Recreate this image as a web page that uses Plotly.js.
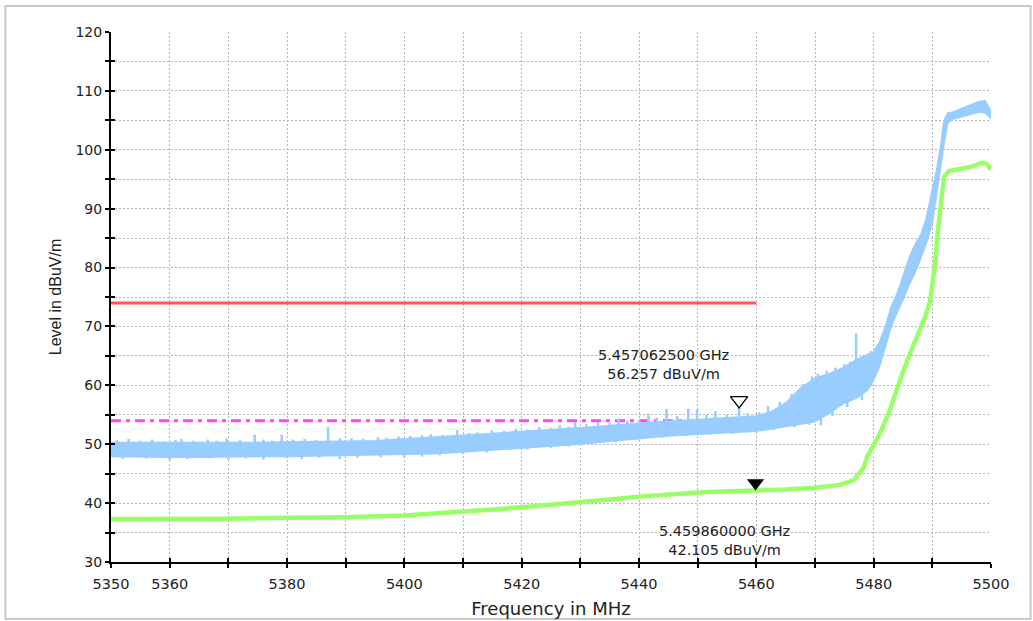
<!DOCTYPE html>
<html>
<head>
<meta charset="utf-8">
<script src="https://cdn.plot.ly/plotly-3.0.1.min.js"></script>
<style>html,body{margin:0;padding:0;background:#fff;}#chart{width:1033px;height:621px;}</style>
</head>
<body>
<div id="chart"></div>
<script>
// ---- data ----
const peakFreq = [5350,5355,5360,5365,5370,5375,5380,5385,5390,5395,5400,5405,5410,5415,5420,5425,5430,5435,5440,5445,5450,5455,5460,5462.5,5465,5467.5,5470,5472.5,5475,5477,5479,5480,5481,5482,5483,5484,5485,5486,5487,5488,5489,5490,5490.8,5491.4,5492,5492.6,5493.5,5495,5496.5,5498,5499,5500];
const peakUpper = [50.3,50.3,50.2,50.3,50.3,50.3,50.4,50.4,50.5,50.6,50.9,51.2,51.6,51.9,52.2,52.5,52.8,53.2,53.6,53.9,54.2,54.5,54.8,55.5,57.0,59.5,61.2,62.0,63.1,64.3,65.2,65.7,67.4,70.0,73.4,75.6,78.5,81.5,83.8,85.5,88.5,93.0,97.0,100.5,105.0,106.2,106.4,107.0,107.6,108.2,108.3,106.6];
const peakLower = [47.9,47.8,47.8,47.8,47.9,47.9,47.9,48.0,48.0,48.1,48.2,48.4,48.7,49.0,49.4,49.7,50.0,50.5,51.0,51.4,51.7,52.0,52.2,52.6,53.0,53.4,53.8,55.3,57.0,57.8,59.2,60.9,63.2,66.6,70.0,72.4,74.5,77.0,79.0,81.5,84.2,87.5,92.5,97.0,101.0,104.5,105.2,105.6,106.0,106.4,106.3,105.3];
// upward noise spikes of the peak trace
const spikeFreq = [5351,5353,5355,5357,5359,5361,5362,5364,5366.5,5368,5369.7,5372,5374.5,5376,5377.5,5379.1,5381,5383,5385,5387,5389,5391,5393,5395.5,5397,5399,5401,5403,5404.5,5406.5,5409,5411,5412.5,5414.9,5417,5419,5421,5423,5425,5426.5,5428,5429.1,5431,5433,5435,5436.5,5438,5440,5441.6,5443,5444.7,5446.5,5448.4,5449.9,5451.5,5453,5455,5457.0625,5458.5,5460.5,5462,5464,5466,5468,5469.5,5470.5,5472,5473.5,5475,5476,5477,5478,5479.5];
const spikeTop = [50.7,50.9,50.6,50.8,50.5,50.7,50.9,50.6,50.8,50.6,51.0,50.7,51.6,50.8,50.6,51.6,50.8,50.9,50.7,52.9,51.0,51.0,50.9,51.2,51.1,51.3,51.4,51.5,51.7,51.6,52.4,51.9,52.0,52.4,52.3,52.6,52.5,52.9,52.8,53.2,53.0,53.8,53.4,53.8,53.6,54.4,54.0,54.1,55.2,54.5,56.0,54.8,56.0,55.9,55.0,55.6,55.0,56.257,55.3,55.4,56.5,57.2,58.5,60.2,61.5,62.0,62.5,63.0,63.6,64.0,68.8,65.0,65.8];
// downward noise dips of the peak trace
const dipFreq = [5352,5356,5360,5363,5367,5370,5373,5376,5380,5382.5,5385.5,5389,5392,5396,5400,5403,5406,5410,5414,5418,5421,5425,5428,5432,5436,5440,5444,5448,5452,5456,5460,5463,5466.5,5469,5471,5473,5475.5,5478];
const dipLow = [47.5,47.6,47.3,47.5,47.6,47.4,47.6,47.4,47.6,47.5,47.7,47.5,47.7,47.8,47.7,47.9,48.1,48.3,48.6,49.0,49.1,49.4,49.6,50.0,50.3,50.8,51.1,51.4,51.6,51.8,52.0,52.4,52.9,53.3,53.2,54.8,56.3,57.5];
const avgFreq = [5350,5360,5370,5380,5390,5400,5405,5410,5415,5420,5425,5430,5435,5440,5445,5450,5455,5460,5465,5470,5474.3,5476.6,5478.3,5478.9,5480,5481.1,5482.6,5483.4,5484.5,5486,5487.4,5488.8,5489.6,5490.1,5490.5,5490.9,5491.3,5491.6,5492,5492.8,5494.8,5496.5,5498.5,5499.3,5500];
const avgLevel = [37.3,37.3,37.35,37.5,37.6,37.9,38.2,38.5,38.9,39.3,39.7,40.1,40.6,41.1,41.5,41.8,42.0,42.1,42.3,42.6,43.1,43.9,46.0,47.9,49.8,51.9,55.3,57.8,60.9,64.9,68.3,71.7,74.2,77.5,81.0,85.8,89.8,93.2,95.4,96.4,96.7,97.1,97.8,97.6,96.6];
const limitFreq = [5350,5460];
const peakLimit = [74,74];
const avgLimit = [54,54];
const markerFreq = [5457.0625,5459.86];
const markerLevel = [56.257,42.105];
const markerLabels = ['5.457062500 GHz<br>56.257 dBuV/m','5.459860000 GHz<br>42.105 dBuV/m'];
const xTickVals = [5350,5360,5370,5380,5390,5400,5410,5420,5430,5440,5450,5460,5470,5480,5490,5500];
const xTickText = ['5350','5360','','5380','','5400','','5420','','5440','','5460','','5480','','5500'];
const yTickVals = [30,35,40,45,50,55,60,65,70,75,80,85,90,95,100,105,110,115,120];
const yTickText = ['30','','40','','50','','60','','70','','80','','90','','100','','110','','120'];

// ---- build traces ----
function lookup(xs, ys, x){
  for(let i=0;i<xs.length-1;i++){ if(x>=xs[i] && x<=xs[i+1]){ const t=(x-xs[i])/(xs[i+1]-xs[i]); return ys[i]+t*(ys[i+1]-ys[i]); } }
  return ys[ys.length-1];
}
const nX=[], nY=[];
spikeFreq.forEach((f,i)=>{ nX.push(f,f,null); nY.push(lookup(peakFreq,peakUpper,f)-0.4, spikeTop[i], null); });
dipFreq.forEach((f,i)=>{ nX.push(f,f,null); nY.push(lookup(peakFreq,peakLower,f)+0.4, dipLow[i], null); });

const BLUE='#99ccff', GREEN='#99ff66';
const FONT='DejaVu Sans';
const traces = [
  {x:limitFreq, y:peakLimit, mode:'lines', line:{color:'#ff5555', width:3}, hoverinfo:'skip'},
  {x:limitFreq, y:avgLimit, mode:'lines', line:{color:'#ff44ff', width:3, dash:'10px,5px,4px,5px'}, hoverinfo:'skip'},
  {x:peakFreq, y:peakLower, mode:'lines', line:{color:BLUE, width:1.5}, hoverinfo:'skip'},
  {x:peakFreq, y:peakUpper, mode:'lines', fill:'tonexty', fillcolor:BLUE, line:{color:BLUE, width:1.5}, hoverinfo:'skip'},
  {x:nX, y:nY, mode:'lines', line:{color:BLUE, width:2.5}, connectgaps:false, hoverinfo:'skip'},
  {x:avgFreq, y:avgLevel, mode:'lines', line:{color:GREEN, width:4.5}, hoverinfo:'skip'},
  {x:[markerFreq[0]], y:[markerLevel[0]+1.2], mode:'markers', marker:{symbol:'triangle-down-open', size:15, color:'#000', line:{color:'#000', width:1.3}}, hoverinfo:'skip'},
  {x:[markerFreq[1]], y:[markerLevel[1]+1.3], mode:'markers', marker:{symbol:'triangle-down', size:15, color:'#000'}, hoverinfo:'skip'},
  {x:[], y:[], xaxis:'x2', yaxis:'y2', mode:'markers', hoverinfo:'skip'}
];

const axisCommon = {showline:true, linecolor:'#000', linewidth:2, ticks:'outside', ticklen:4, tickwidth:2, tickcolor:'#000',
  showgrid:true, gridcolor:'#b5b5b5', griddash:'2px,2px', gridwidth:1, zeroline:false, fixedrange:true};

const layout = {
  width:1033, height:621,
  margin:{l:111, r:42, t:32, b:59},
  paper_bgcolor:'#fff', plot_bgcolor:'#fff',
  showlegend:false,
  font:{family:FONT, color:'#222', size:14},
  xaxis:Object.assign({}, axisCommon, {range:[5350,5500], tickmode:'array', tickvals:xTickVals, ticktext:xTickText,
    tickfont:{family:FONT, size:14.5, color:'#222'}, ticklabelstandoff:4,
    title:{text:'Frequency in MHz', font:{family:FONT, size:18, color:'#222'}, standoff:11}}),
  yaxis:Object.assign({}, axisCommon, {range:[30,120], tickmode:'array', tickvals:yTickVals, ticktext:yTickText,
    tickfont:{family:FONT, size:14, color:'#222'},
    title:{text:'Level in dBuV/m', font:{family:'Liberation Sans', size:16, color:'#222'}, standoff:10}}),
  xaxis2:{overlaying:'x', anchor:'y', side:'bottom', range:[5350,5500], tickmode:'array', tickvals:xTickVals, ticks:'inside', ticklen:4, tickwidth:2, tickcolor:'#000', showticklabels:false, showgrid:false, showline:false, zeroline:false, fixedrange:true},
  yaxis2:{overlaying:'y', anchor:'x', side:'left', range:[30,120], tickmode:'array', tickvals:yTickVals, ticks:'inside', ticklen:4, tickwidth:2, tickcolor:'#000', showticklabels:false, showgrid:false, showline:false, zeroline:false, fixedrange:true},
  annotations:[
    {x:5444.1, y:63.6, xref:'x', yref:'y', text:markerLabels[0], showarrow:false, align:'center', font:{family:FONT, size:14.5, color:'#222'}},
    {x:5454.5, y:33.7, xref:'x', yref:'y', text:markerLabels[1], showarrow:false, align:'center', font:{family:FONT, size:14.5, color:'#222'}}
  ],
  shapes:[
    {type:'rect', xref:'paper', yref:'paper', x0:-0.12, x1:1.045, y0:-0.1075, y1:1.049, line:{color:'#c8c8c8', width:2}, fillcolor:'rgba(0,0,0,0)', layer:'below'}
  ]
};
Plotly.newPlot('chart', traces, layout, {displayModeBar:false, staticPlot:true});
</script>
</body>
</html>
